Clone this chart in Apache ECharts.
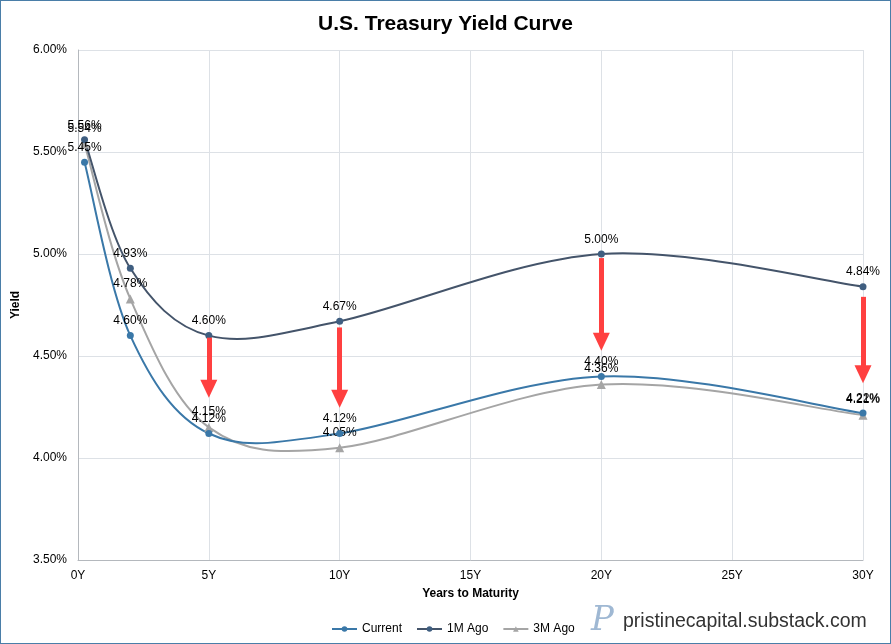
<!DOCTYPE html>
<html>
<head>
<meta charset="utf-8">
<script src="https://cdn.jsdelivr.net/npm/echarts@6/dist/echarts.min.js"></script>
<style>
  html, body { margin: 0; padding: 0; background: #fff; }
  #chart { width: 891px; height: 644px; box-sizing: border-box; border: 1px solid #4a7ea8; }
</style>
</head>
<body>
<div id="chart"></div>
<script>
// years to maturity of each point
var tenors = [0.25, 2, 5, 10, 20, 30];
var current = [5.45, 4.60, 4.12, 4.12, 4.40, 4.22];
var oneMonthAgo = [5.56, 4.93, 4.60, 4.67, 5.00, 4.84];
var threeMonthAgo = [5.54, 4.78, 4.15, 4.05, 4.36, 4.21];

// red arrows: from just under 1M Ago down towards Current
var arrowTenors = [5, 10, 20, 30];
var arrowFrom = [4.59, 4.64, 4.98, 4.79];
var arrowTo = [4.34, 4.29, 4.57, 4.41];

var blue = '#3a78a8', slate = '#44546a', grey = '#a5a5a5';
var font = 'Liberation Sans, Arial, sans-serif';

function pairs(ys) {
  return tenors.map(function (t, i) { return [t, ys[i]]; });
}

var labelStyle = {
  show: true,
  position: 'top',
  distance: 5,
  color: '#000',
  fontSize: 12,
  fontFamily: font,
  formatter: function (p) { return p.value[1].toFixed(2) + '%'; }
};

// Excel-like smoothed line: each item draws the bezier segment to the next point
function curve(ys, color, z) {
  return {
    type: 'custom',
    name: '_curve' + z + color,
    silent: true,
    z: z,
    data: pairs(ys),
    encode: { x: 0, y: 1 },
    renderItem: function (params, api) {
      var i = params.dataIndex;
      var n = ys.length;
      if (i >= n - 1) return null;
      function pt(k) {
        k = Math.max(0, Math.min(n - 1, k));
        return api.coord([tenors[k], ys[k]]);
      }
      var p0 = pt(i - 1), p1 = pt(i), p2 = pt(i + 1), p3 = pt(i + 2);
      return {
        type: 'bezierCurve',
        shape: {
          x1: p1[0], y1: p1[1],
          x2: p2[0], y2: p2[1],
          cpx1: p1[0] + (p2[0] - p0[0]) / 6,
          cpy1: p1[1] + (p2[1] - p0[1]) / 6,
          cpx2: p2[0] - (p3[0] - p1[0]) / 6,
          cpy2: p2[1] - (p3[1] - p1[1]) / 6
        },
        style: { stroke: color, lineWidth: 2, fill: null }
      };
    }
  };
}

var arrows = arrowTenors.map(function (t, i) {
  return [{ coord: [t, arrowFrom[i]] }, { coord: [t, arrowTo[i]] }];
});

var chart = echarts.init(document.getElementById('chart'));
chart.setOption({
  animation: false,
  title: {
    text: 'U.S. Treasury Yield Curve',
    left: 'center',
    top: 8,
    textStyle: { fontSize: 21, fontWeight: 'bold', color: '#000', fontFamily: font }
  },
  legend: {
    left: 325,
    top: 617,
    itemWidth: 25,
    itemHeight: 7,
    itemGap: 14,
    textStyle: { fontSize: 12, color: '#000', fontFamily: font },
    data: [
      { name: 'Current', lineStyle: { color: blue, width: 2, opacity: 1 } },
      { name: '1M Ago', lineStyle: { color: slate, width: 2, opacity: 1 } },
      { name: '3M Ago', lineStyle: { color: grey, width: 2, opacity: 1 } }
    ]
  },
  grid: { left: 77, right: 27, top: 49, bottom: 83 },
  xAxis: {
    type: 'value',
    min: 0,
    max: 30,
    interval: 5,
    name: 'Years to Maturity',
    nameLocation: 'middle',
    nameGap: 28,
    nameTextStyle: { fontSize: 12, fontWeight: 'bold', color: '#000', fontFamily: font },
    axisLine: { lineStyle: { color: '#b4b8bd' } },
    axisTick: { show: false },
    axisLabel: { color: '#000', fontSize: 12, fontFamily: font, margin: 10, formatter: '{value}Y' },
    splitLine: { show: true, lineStyle: { color: '#dde1e6' } }
  },
  yAxis: {
    type: 'value',
    min: 3.5,
    max: 6,
    interval: 0.5,
    name: 'Yield',
    nameLocation: 'middle',
    nameGap: 47,
    nameTextStyle: { fontSize: 12, fontWeight: 'bold', color: '#000', fontFamily: font },
    axisLine: { show: true, lineStyle: { color: '#b4b8bd' } },
    axisTick: { show: false },
    axisLabel: {
      color: '#000', fontSize: 12, fontFamily: font, margin: 11,
      formatter: function (v) { return v.toFixed(2) + '%'; }
    },
    splitLine: { lineStyle: { color: '#dde1e6' } }
  },
  graphic: [
    {
      type: 'text',
      left: 590,
      top: 603,
      style: { text: 'P', fontSize: 34, fontStyle: 'italic', fontFamily: 'DejaVu Serif, serif', fill: '#9fb8d3' }
    },
    {
      type: 'text',
      left: 622,
      top: 611,
      style: { text: 'pristinecapital.substack.com', fontSize: 19.5, fontFamily: font, fill: '#333' }
    }
  ],
  series: [
    curve(threeMonthAgo, grey, 1),
    curve(oneMonthAgo, slate, 1),
    curve(current, blue, 1),
    {
      name: 'Current',
      type: 'line',
      data: pairs(current),
      symbol: 'circle',
      symbolSize: 7,
      itemStyle: { color: blue },
      lineStyle: { color: blue, width: 2, opacity: 0 },
      label: labelStyle,
      z: 4
    },
    {
      name: '1M Ago',
      type: 'line',
      data: pairs(oneMonthAgo),
      symbol: 'circle',
      symbolSize: 7,
      itemStyle: { color: '#3f5e80' },
      lineStyle: { color: slate, width: 2, opacity: 0 },
      label: labelStyle,
      z: 4,
      markLine: {
        silent: true,
        animation: false,
        symbol: ['none', 'triangle'],
        symbolSize: [17, 18],
        label: { show: false },
        lineStyle: { color: '#ff4040', width: 5, type: 'solid', opacity: 1 },
        emphasis: { disabled: true },
        data: arrows,
        z: 5
      }
    },
    {
      name: '3M Ago',
      type: 'line',
      data: pairs(threeMonthAgo),
      symbol: 'triangle',
      symbolSize: 9,
      itemStyle: { color: grey },
      lineStyle: { color: grey, width: 2, opacity: 0 },
      label: labelStyle,
      z: 3
    }
  ]
});
</script>
</body>
</html>
